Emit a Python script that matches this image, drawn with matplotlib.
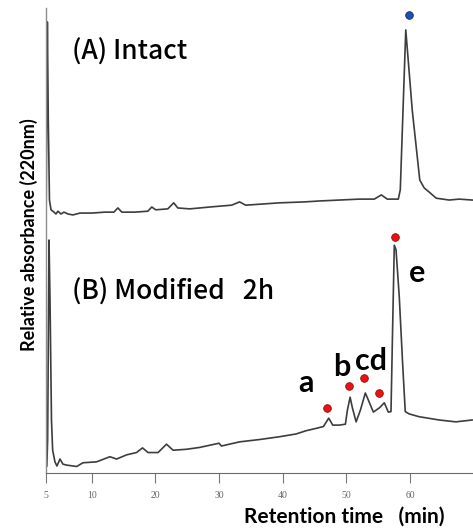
import numpy as np
import matplotlib
matplotlib.use("Agg")
import matplotlib.pyplot as plt

# ---- data ----
time_a = [5.02, 5.15, 5.25, 5.38, 5.55, 5.88, 6.09, 6.31, 6.64, 6.97, 7.41, 7.95, 8.72,
          10.05, 12.08, 13.5, 14.12, 14.75, 16.79, 18.83, 19.45, 20.08, 21.96, 22.9, 23.53,
          25.41, 28.54, 31.99, 33.24, 34.19, 36.38, 39.51, 43.43, 45.78, 48.92, 52.05, 54.4,
          55.5, 56.44, 58.17, 58.48, 59.34, 60.36, 61.54, 62.24, 63.03, 64.12, 66.16, 67.73, 69.77]
abs_a = [57.6, 97.0, 75.9, 58.7, 56.6, 56.1, 55.7, 56.3, 55.7, 56.1, 55.7, 55.5, 55.9,
         55.9, 56.1, 56.1, 57.0, 56.1, 56.1, 56.3, 57.2, 56.6, 56.8, 58.1, 57.0,
         56.8, 57.2, 57.6, 58.3, 57.6, 57.8, 58.1, 58.3, 58.5, 58.7, 58.9, 58.9,
         59.8, 58.9, 58.9, 60.9, 95.3, 78.0, 63.0, 61.3, 60.4, 59.1, 58.7, 58.9, 58.7]

time_b = [5.09, 5.18, 5.33, 5.44, 5.6, 5.73, 5.98, 6.2, 6.53, 6.86, 7.26, 8.36, 9.05,
          10.78, 12.87, 13.92, 15.49, 17.05, 17.99, 18.87, 20.44, 21.76, 22.79, 24.89,
          26.97, 30.0, 30.38, 33.25, 36.38, 39.52, 42.13, 43.7, 45.27, 46.41, 47.24, 47.87,
          48.92, 49.86, 50.17, 50.6, 50.96, 51.54, 52.21, 52.99, 53.46, 54.25, 55.19, 55.97,
          56.6, 57.02, 57.27, 57.54, 57.81, 58.32, 58.84, 59.26, 59.89, 61.46, 64.59, 67.21, 69.76]
abs_b = [1.5, 7.1, 50.1, 37.2, 11.4, 4.9, 2.4, 1.5, 3.0, 1.9, 1.7, 1.4, 2.2,
         2.4, 3.5, 3.0, 3.9, 4.4, 5.4, 4.4, 4.4, 6.2, 4.9, 5.1,
         5.5, 6.4, 5.8, 6.7, 7.2, 7.8, 8.4, 9.1, 9.6, 10.0, 11.8, 10.3,
         10.3, 10.5, 13.5, 16.3, 14.0, 11.0, 13.5, 17.2, 15.7, 13.1, 14.0, 15.1,
         13.1, 13.2, 30.8, 49.0, 48.0, 37.9, 23.7, 13.2, 12.7, 12.1, 11.4, 11.0, 11.4]

# peak markers
mark_a_t, mark_a_y = [59.89], [98.5]
mark_b_t = [47.04, 50.49, 52.84, 55.19, 57.65]
mark_b_y = [14.0, 18.7, 20.4, 17.2, 50.8]

# peak labels
peak_names = ["a", "b", "cd", "e"]
peak_lab_t = [43.6, 49.34, 53.89, 61.14]
peak_lab_y = [19.4, 22.9, 24.0, 43.0]

xticks = [5, 10, 20, 30, 40, 50, 60]

# x axis of the recorder is stretched between 5 and 10 min
K = 1.433
def fwd(t):
    t = np.asarray(t, dtype=float)
    return np.where(t < 10, 10 - (10 - t) * K, t)
def inv(u):
    u = np.asarray(u, dtype=float)
    return np.where(u < 10, 10 - (10 - u) / K, u)

fig = plt.figure(figsize=(4.73, 5.31), dpi=100)
ax = fig.add_axes([46/473, 58/531, 427/473, 465/531])
ax.set_xscale("function", functions=(fwd, inv))

LINE = "#3d3d3d"
ax.plot(time_a, abs_a, color=LINE, lw=1.2)
ax.plot(time_b, abs_b, color=LINE, lw=1.2)
ax.plot(mark_a_t, mark_a_y, "o", ms=5.5, mfc="#1f4fb5", mec="#1a2a60", mew=0.6)
ax.plot(mark_b_t, mark_b_y, "o", ms=5.5, mfc="#ee1111", mec="#8a1010", mew=0.6)

for name, t, y in zip(peak_names, peak_lab_t, peak_lab_y):
    ax.text(t, y, name, ha="center", va="center", fontsize=22, fontweight="bold",
            family=["Lato", "DejaVu Sans"])

cjk = ["Noto Sans CJK JP", "DejaVu Sans"]
ax.text(7.85, 90.5, "(A) Intact", ha="left", va="center", fontsize=19, family=cjk, fontweight="medium")
ax.text(7.85, 39.0, "(B) Modified   2h", ha="left", va="center", fontsize=19, family=cjk, fontweight="medium")

ax.set_xlim(5, 69.9)
ax.set_ylim(0, 100)
ax.set_xticks(xticks)
ax.set_xticklabels([str(v) for v in xticks], family=["Liberation Serif", "DejaVu Serif"])
ax.set_yticks([])
ax.tick_params(axis="x", direction="out", length=7, width=0.8, color="#777777",
               labelsize=7, labelcolor="#666666", pad=6)
for s in ("top", "right"):
    ax.spines[s].set_visible(False)
ax.spines["left"].set_color("#8c8c8c")
ax.spines["left"].set_linewidth(1.0)
ax.spines["bottom"].set_color("#6a6a6a")
ax.spines["bottom"].set_linewidth(0.8)

fig.text(29/473, 1 - 235/531, "Relative absorbance (220nm)", rotation=90, ha="center", va="center",
         fontsize=13, fontweight="bold", family=["Lato", "DejaVu Sans"])
fig.text(344/473, 1 - 517/531, "Retention time   (min)", ha="center", va="center",
         fontsize=15, fontweight="bold", family=["Lato", "DejaVu Sans"])

fig.savefig("out.png", dpi=100)
